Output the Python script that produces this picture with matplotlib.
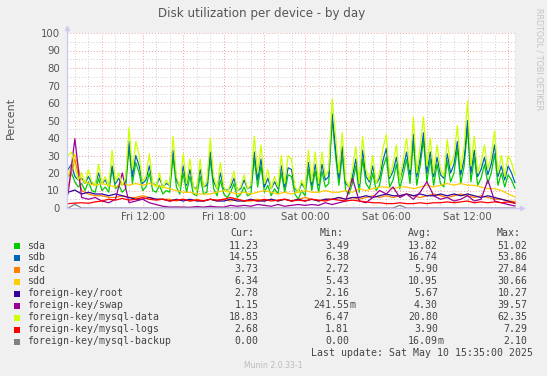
import matplotlib
matplotlib.use('Agg')
import matplotlib.pyplot as plt
from matplotlib.patches import Rectangle
import numpy as np

# ---------------- data ----------------
# 15-minute samples starting Fri 06:30 (hours since Fri 00:00)
fine_start, fine_step = 6.5, 0.25
mysql_data = [30, 32, 24, 16, 20, 14, 22, 15, 13, 25, 14, 18, 12, 33, 15, 20, 13, 17, 46, 22,
              38, 30, 15, 18, 31, 14, 12, 20, 11, 16, 13, 41, 18, 12, 31, 14, 28, 12, 10, 28,
              12, 15, 40, 18, 11, 26, 12, 9, 14, 21, 10, 12, 19, 11, 13, 41, 20, 36, 14, 22,
              11, 18, 12, 30, 14, 30, 28, 12, 9, 16, 11, 33, 15, 32, 14, 32, 18, 22, 62.35, 42,
              20, 43, 16, 12, 22, 35, 14, 41, 22, 16, 30, 14, 20, 34, 42, 18, 25, 36, 16, 28,
              40, 22, 52, 20, 35, 52, 24, 40, 20, 36, 22, 18, 39, 24, 30, 47, 22, 35, 61, 24,
              41, 20, 26, 36, 22, 30, 44, 20, 30, 18, 30, 26, 18.83]
sdb = [22, 25, 18, 16, 17, 14, 18, 14, 13, 20, 14, 16, 12, 24, 14, 17, 13, 15, 38, 18,
       30, 24, 14, 16, 24, 14, 13, 17, 12, 14, 13, 33, 16, 12, 24, 13, 22, 12, 11, 22,
       12, 13, 32, 15, 11, 20, 11, 10, 12, 17, 10, 11, 16, 11, 12, 32, 16, 28, 12, 17,
       11, 15, 11, 24, 12, 23, 22, 11, 9, 14, 11, 26, 13, 25, 13, 25, 16, 18, 53.86, 34,
       17, 35, 14, 12, 18, 28, 13, 33, 18, 15, 24, 14, 17, 27, 34, 17, 21, 29, 16, 23,
       32, 19, 42, 18, 28, 43, 20, 32, 18, 29, 19, 17, 31, 20, 25, 38, 19, 28, 50, 20,
       33, 18, 22, 29, 19, 25, 36, 18, 24, 16, 24, 20, 14.55]
sda = [18, 20, 15, 12, 14, 10, 15, 10, 9, 17, 10, 12, 9, 22, 11, 13, 9, 11, 35, 14,
       26, 20, 10, 12, 20, 10, 9, 13, 8, 10, 9, 29, 12, 8, 20, 9, 18, 8, 7, 18,
       8, 9, 28, 11, 7, 16, 8, 6, 9, 14, 6, 8, 12, 7, 8, 28, 12, 24, 9, 13,
       7, 11, 8, 20, 9, 19, 18, 8, 5, 10, 7, 22, 10, 21, 9, 21, 12, 14, 51.02, 30,
       13, 30, 10, 8, 14, 24, 9, 28, 14, 11, 20, 10, 13, 23, 29, 12, 16, 25, 11, 19,
       28, 14, 38, 13, 24, 39, 15, 28, 13, 25, 14, 12, 27, 15, 20, 34, 14, 24, 46, 15,
       29, 13, 17, 25, 14, 20, 31, 13, 20, 12, 19, 16, 11.23]

# 30-minute samples starting Fri 06:30
coarse_start, coarse_step = 6.5, 0.5
sdc = [12, 27.84, 10, 8, 7, 7, 6, 6, 7, 6, 6, 7, 6, 5, 5, 5, 4, 5, 4, 5,
       4, 5, 4, 5, 4, 5, 4, 4, 5, 4, 5, 4, 5, 4, 5, 6, 5, 4, 5, 5,
       6, 5, 6, 5, 6, 7, 6, 7, 6, 7, 8, 7, 6, 7, 8, 7, 6, 7, 8, 7,
       6, 7, 6, 5, 5, 4, 3.73]
sdd = [18, 30.66, 16, 14, 13, 14, 13, 12, 14, 13, 14, 13, 14, 13, 12, 11, 10, 9, 9, 8,
       8, 8, 9, 10, 9, 8, 9, 8, 9, 10, 9, 8, 9, 8, 9, 10, 9, 9, 10, 9,
       9, 10, 9, 11, 10, 11, 12, 12, 11, 12, 12, 11, 12, 13, 12, 13, 14, 13, 14, 13,
       13, 12, 11, 11, 10, 8, 6.34]
root = [9, 10.27, 8, 9, 8, 8, 7, 8, 7, 6, 5, 5, 6, 5, 5, 4, 5, 4, 5, 4,
        4, 5, 4, 4, 5, 4, 4, 5, 4, 4, 5, 4, 5, 4, 5, 4, 5, 4, 5, 5,
        6, 5, 6, 6, 7, 6, 7, 8, 7, 7, 8, 7, 8, 7, 7, 8, 7, 8, 7, 8,
        7, 6, 7, 6, 5, 4, 2.78]
swap = [8, 39.57, 6, 5, 6, 4, 3, 5, 20, 3, 4, 5, 3, 2, 1, 0.5, 0.6, 0.5, 0.4, 0.8,
        0.5, 1, 0.6, 0.5, 1.5, 1, 1.5, 1, 2, 1.5, 1, 2, 1, 1.5, 2, 1.5, 2, 1.5, 3, 2,
        3, 4, 17, 4, 3, 6, 10, 8, 12, 6, 8, 5, 9, 15, 7, 5, 6, 4, 5, 7,
        4, 5, 16, 4, 3, 2, 1.15]
mysql_logs = [2.5, 2.8, 3, 2.7, 3.5, 4, 5, 4.5, 5.5, 4.5, 5, 6, 5, 4.5, 5, 4, 4.5, 5, 4, 4.5,
              4, 5, 4.5, 5, 6, 5, 4, 4.5, 4, 5, 4, 4.5, 5, 4, 4.5, 4, 5, 4.5, 4, 5,
              4.5, 4, 4.5, 4, 3.5, 3, 3, 2.5, 2.5, 3, 2.5, 2.5, 3, 2.5, 3, 3, 3.5, 3, 3.5, 4,
              3, 3.5, 3, 3.5, 3, 3.5, 2.68]
mysql_backup = [0, 2.1, 0, 0, 0, 0, 0, 0, 0, 0, 0, 0, 0, 0, 0, 0, 0, 0, 0, 0,
                0, 0, 0, 0, 0, 0, 0, 0, 0, 0, 0, 0, 0, 0, 0, 0, 0, 0, 0, 0,
                0, 0, 0, 0, 0, 0, 0, 0, 0, 1.5, 0, 0, 0, 0, 0, 0, 0, 0, 0, 0,
                0, 0, 0, 0, 0, 0, 0]

labels = ['sda', 'sdb', 'sdc', 'sdd', 'foreign-key/root', 'foreign-key/swap',
          'foreign-key/mysql-data', 'foreign-key/mysql-logs', 'foreign-key/mysql-backup']
colors = ['#00CC00', '#0066B3', '#FF8000', '#FFCC00', '#330099', '#990099',
          '#CCFF00', '#FF0000', '#808080']
cur_vals = ['11.23', '14.55', '3.73', '6.34', '2.78', '1.15', '18.83', '2.68', '0.00']
min_vals = ['3.49', '6.38', '2.72', '5.43', '2.16', '241.55m', '6.47', '1.81', '0.00']
avg_vals = ['13.82', '16.74', '5.90', '10.95', '5.67', '4.30', '20.80', '3.90', '16.09m']
max_vals = ['51.02', '53.86', '27.84', '30.66', '10.27', '39.57', '62.35', '7.29', '2.10']

xtick_hours = [12, 18, 24, 30, 36]
xtick_labels = ['Fri 12:00', 'Fri 18:00', 'Sat 00:00', 'Sat 06:00', 'Sat 12:00']

# ---------------- figure ----------------
W, H = 547, 376
fig = plt.figure(figsize=(W / 100, H / 100), dpi=100)
fig.patch.set_facecolor('#F0F0F0')

def fx(x):
    return x / W

def fy(y):
    return 1 - y / H

L, R, T, B = 67, 516, 33, 208
ax = fig.add_axes([fx(L), fy(B), (R - L) / W, (B - T) / H])
ax.set_facecolor('white')
ax.set_xlim(6.42, 39.58)
ax.set_ylim(0, 100)

# grid
for h in np.arange(7, 40, 1):
    if h % 3 != 0:
        ax.axvline(h, color='#CFCFCF', lw=0.7, ls=(0, (1, 2)), zorder=0)
for v in range(5, 100, 10):
    ax.axhline(v, color='#CFCFCF', lw=0.7, ls=(0, (1, 2)), zorder=0)
for h in range(9, 40, 3):
    ax.axvline(h, color='#F2A0A0', lw=0.7, ls=(0, (1, 2)), zorder=0.5)
for v in range(10, 101, 10):
    ax.axhline(v, color='#F2A0A0', lw=0.7, ls=(0, (1, 2)), zorder=0.5, clip_on=False)

fine_series = {'sda': sda, 'sdb': sdb, 'foreign-key/mysql-data': mysql_data}
coarse_series = {'sdc': sdc, 'sdd': sdd, 'foreign-key/root': root, 'foreign-key/swap': swap,
                 'foreign-key/mysql-logs': mysql_logs, 'foreign-key/mysql-backup': mysql_backup}
for lab, col in zip(labels, colors):
    if lab in fine_series:
        vals = fine_series[lab]
        t = fine_start + fine_step * np.arange(len(vals))
    else:
        vals = coarse_series[lab]
        t = coarse_start + coarse_step * np.arange(len(vals))
    ax.plot(t, vals, color=col, lw=0.9, zorder=2)

ax.axvline(39.58, color='#909090', lw=1.0, zorder=3)

for s in ['top', 'right', 'left', 'bottom']:
    ax.spines[s].set_visible(False)
axc = '#CCCCF2'
ax.plot([0, 1.012], [0, 0], color=axc, lw=1.0, transform=ax.transAxes, clip_on=False, zorder=4)
ax.plot([0, 0], [0, 1.025], color=axc, lw=1.0, transform=ax.transAxes, clip_on=False, zorder=4)
ax.plot([0], [1.03], marker='^', color=axc, ms=3, transform=ax.transAxes, clip_on=False)
ax.plot([1.014], [0], marker='>', color=axc, ms=3, transform=ax.transAxes, clip_on=False)

ax.set_yticks(range(0, 101, 10))
ax.set_yticklabels([str(v) for v in range(0, 101, 10)])
ax.set_xticks(xtick_hours)
ax.set_xticklabels(xtick_labels)
ax.tick_params(axis='both', length=0, labelsize=7.3, colors='#555555')
ax.tick_params(axis='y', pad=5)
ax.tick_params(axis='x', pad=3)

fig.text(fx(10.5), fy(118), 'Percent', rotation=90, ha='center', va='center',
         fontsize=8, color='#555555')
fig.text(fx(262), fy(14), 'Disk utilization per device - by day', ha='center', va='center',
         fontsize=8.6, color='#555555')
fig.text(fx(539), fy(8), 'RRDTOOL / TOBI OETIKER', rotation=270, ha='center', va='top',
         fontsize=5.8, color='#C4C4C4')

mono = 'DejaVu Sans Mono'
fs = 7.1
tc = '#444444'
fig.text(fx(230), fy(233), 'Cur:', ha='left', va='center', family=mono, fontsize=fs, color=tc)
fig.text(fx(320), fy(233), 'Min:', ha='left', va='center', family=mono, fontsize=fs, color=tc)
fig.text(fx(408), fy(233), 'Avg:', ha='left', va='center', family=mono, fontsize=fs, color=tc)
fig.text(fx(497), fy(233), 'Max:', ha='left', va='center', family=mono, fontsize=fs, color=tc)

col_right = [258.5, 349, 438, 527.5]
for i, (lab, col) in enumerate(zip(labels, colors)):
    y = 245.5 + 12 * i
    fig.add_artist(Rectangle((fx(14), fy(y + 3)), 6 / W, 6 / H, transform=fig.transFigure,
                             facecolor=col, edgecolor='none'))
    fig.text(fx(27), fy(y), lab, ha='left', va='center', family=mono, fontsize=fs, color=tc)
    for xr, vals in zip(col_right, [cur_vals, min_vals, avg_vals, max_vals]):
        s = vals[i]
        if s.endswith('m'):
            fig.text(fx(xr), fy(y), s[:-1], ha='right', va='center', family=mono, fontsize=fs, color=tc)
            fig.text(fx(xr), fy(y), 'm', ha='left', va='center', family=mono, fontsize=fs, color=tc)
        else:
            fig.text(fx(xr), fy(y), s, ha='right', va='center', family=mono, fontsize=fs, color=tc)

fig.text(fx(533), fy(353.5), 'Last update: Sat May 10 15:35:00 2025', ha='right', va='center',
         family=mono, fontsize=fs, color=tc)
fig.text(fx(273), fy(365), 'Munin 2.0.33-1', ha='center', va='center', fontsize=5.6, color='#BBBBBB')

fig.savefig('out.png', dpi=100, facecolor=fig.get_facecolor())
